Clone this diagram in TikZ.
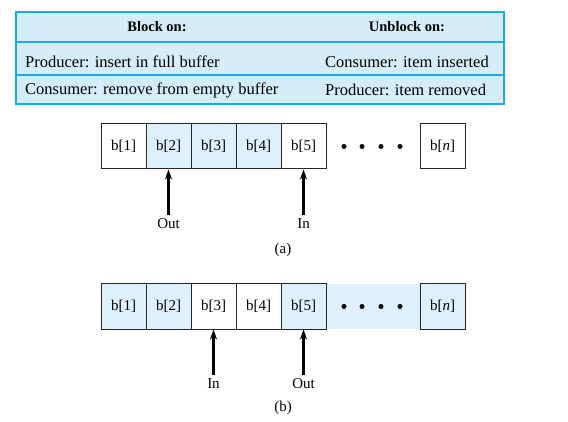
\documentclass[tikz,border=0pt]{standalone}
\usepackage{fontspec}
\setmainfont{Liberation Serif}
\usetikzlibrary{arrows.meta}
\definecolor{tabfill}{HTML}{D4EDF9}
\definecolor{tabline}{HTML}{1BAAE6}
\definecolor{cellfill}{HTML}{DDF0FB}
\tikzset{
  cell/.style={draw=black!85, line width=1pt, minimum width=45pt, minimum height=45pt, inner sep=0pt, font=\fontsize{15}{17}\selectfont},
  shaded/.style={fill=cellfill},
  lbl/.style={inner sep=3pt, font=\fontsize{15}{17}\selectfont},
  arr/.style={line width=2.2pt, -{Stealth[length=10pt,width=7pt]}},
  rowtxt/.style={inner sep=0pt, font=\fontsize{16.5}{18}\selectfont},
  hdrtxt/.style={inner sep=0pt, font=\fontsize{14.5}{16}\selectfont\bfseries},
  dot/.style={fill=black}
}
\begin{document}
\begin{tikzpicture}[x=1pt,y=-1pt]
\useasboundingbox (0,0) rectangle (568,422);
% table
\fill[tabfill] (16,12) rectangle (504,104);
\draw[tabline, line width=1.6pt] (16,42) -- (504,42);
\draw[tabline, line width=1.6pt] (16,75) -- (504,75);
\draw[tabline, line width=2.2pt] (16,12) rectangle (504,104);
\node[hdrtxt] (h1) at (157,27) {Block on:};
\node[hdrtxt] (h2) at (407,27) {Unblock on:};
\node[rowtxt, anchor=west] (r1a) at (25,62) {Producer: insert in full buffer};
\node[rowtxt, anchor=west] (r1b) at (325,62) {Consumer: item inserted};
\node[rowtxt, anchor=west] (r2a) at (25,90) {Consumer: remove from empty buffer};
\node[rowtxt, anchor=west] (r2b) at (325,90) {Producer: item removed};
% buffer (a)
\node[cell] (a1) at (123.5,146.5) {b[1]};
\node[cell, shaded] (a2) at (168.5,146.5) {b[2]};
\node[cell, shaded] (a3) at (213.5,146.5) {b[3]};
\node[cell, shaded] (a4) at (258.5,146.5) {b[4]};
\node[cell] (a5) at (303.5,146.5) {b[5]};
\node[cell] (an) at (442.5,146.5) {b[\textit{n}]};
\foreach \x in {344,362,381,400} \fill[dot] (\x,146.5) circle (2.5pt);
\node[lbl, anchor=north] (aout) at (168.5,215) {Out};
\node[lbl, anchor=north] (ain) at (303.5,215) {In};
\draw[arr] (aout.north) -- (a2.south);
\draw[arr] (ain.north) -- (a5.south);
\node[lbl] (capa) at (283,250) {(a)};
% buffer (b)
\fill[cellfill] (326,284) rectangle (420,329);
\node[cell, shaded] (b1) at (123.5,306.5) {b[1]};
\node[cell, shaded] (b2) at (168.5,306.5) {b[2]};
\node[cell] (b3) at (213.5,306.5) {b[3]};
\node[cell] (b4) at (258.5,306.5) {b[4]};
\node[cell, shaded] (b5) at (303.5,306.5) {b[5]};
\node[cell, shaded] (bn) at (442.5,306.5) {b[\textit{n}]};
\foreach \x in {344,362,381,400} \fill[dot] (\x,306.5) circle (2.5pt);
\node[lbl, anchor=north] (bin) at (213.5,375) {In};
\node[lbl, anchor=north] (bout) at (303.5,375) {Out};
\draw[arr] (bin.north) -- (b3.south);
\draw[arr] (bout.north) -- (b5.south);
\node[lbl] (capb) at (283,408) {(b)};
\end{tikzpicture}
\end{document}
